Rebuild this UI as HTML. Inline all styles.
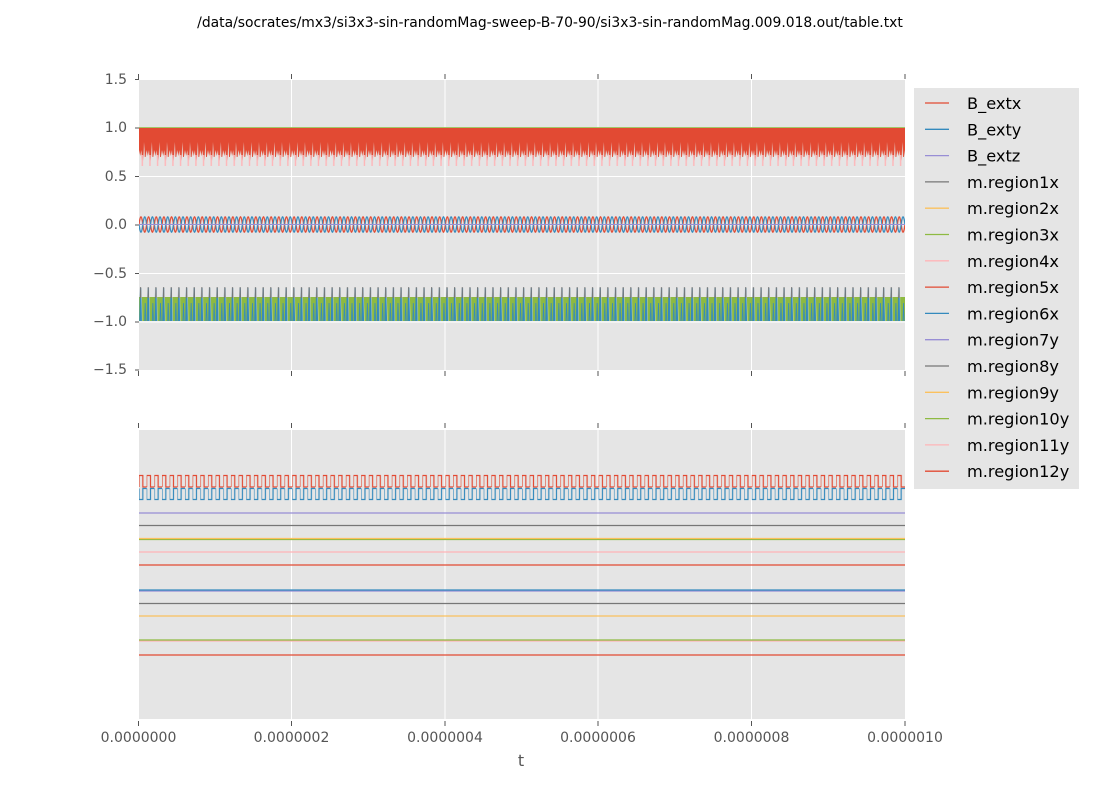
<!DOCTYPE html>
<html><head><meta charset="utf-8"><style>
html,body{margin:0;padding:0;background:#fff;}
svg{display:block;font-family:"DejaVu Sans","Liberation Sans",sans-serif;}
</style></head><body>
<svg width="1100" height="800" viewBox="0 0 1100 800" xmlns="http://www.w3.org/2000/svg">
<defs>
<pattern id="pr" patternUnits="userSpaceOnUse" x="139" y="0" width="7.66" height="800">
  <polygon points="0,128 7.66,128 7.66,150 6.6,157 5.8,157 5.2,142 4.4,156 3.6,163 3.0,163 2.4,150 1.2,156 0,150" fill="#E24A33"/>
  <line x1="3.3" y1="155" x2="3.3" y2="166" stroke="#FFB5B8" stroke-width="1.4"/>
  <line x1="0" y1="127.5" x2="7.66" y2="127.5" stroke="#8EBA42" stroke-width="0.8"/>
</pattern>
<pattern id="pg" patternUnits="userSpaceOnUse" x="139" y="0" width="7.66" height="800">
  <polygon points="0,297 1.2,297 2.0,321 0,321" fill="#8EBA42"/>
  <polygon points="2.8,297 7.66,297 7.66,321 3.3,321" fill="#8EBA42"/>
  <polyline points="0.9,321 1.6,288 2.3,321" fill="none" stroke="#348ABD" stroke-width="1.3"/>
  <polyline points="1.3,298 1.6,287 1.9,298" fill="none" stroke="#777777" stroke-width="1"/>
  <polyline points="5.6,321 6.2,303 6.8,321" fill="none" stroke="#348ABD" stroke-width="0.8"/>
</pattern>
<pattern id="ps" patternUnits="userSpaceOnUse" x="139" y="0" width="7.66" height="800">
  <path d="M0,224.5 Q1.92,209 3.83,224.5 T7.66,224.5" fill="none" stroke="#E24A33" stroke-width="1.3"/>
  <path d="M0,224.5 Q1.92,240 3.83,224.5 T7.66,224.5" fill="none" stroke="#348ABD" stroke-width="1.3"/>
</pattern>
<pattern id="sq" patternUnits="userSpaceOnUse" x="139" y="0" width="7.66" height="800">
  <path d="M0,487 V475.5 H3.83 V487 H7.66" fill="none" stroke="#E24A33" stroke-width="1.2"/>
  <path d="M0,488.5 V499.5 H3.83 V488.5 H7.66" fill="none" stroke="#348ABD" stroke-width="1.2"/>
</pattern>
</defs>

<text x="550" y="27" font-size="13.9" text-anchor="middle" fill="#000">/data/socrates/mx3/si3x3-sin-randomMag-sweep-B-70-90/si3x3-sin-randomMag.009.018.out/table.txt</text>

<!-- top axes -->
<rect x="139" y="80" width="766" height="290" fill="#E5E5E5"/>
<g stroke="#fff" stroke-width="1">
  <line x1="291.5" y1="80" x2="291.5" y2="370"/><line x1="445" y1="80" x2="445" y2="370"/>
  <line x1="598" y1="80" x2="598" y2="370"/><line x1="751.5" y1="80" x2="751.5" y2="370"/>
  <line x1="139" y1="128" x2="905" y2="128"/><line x1="139" y1="176.5" x2="905" y2="176.5"/>
  <line x1="139" y1="225" x2="905" y2="225"/><line x1="139" y1="273.5" x2="905" y2="273.5"/>
  <line x1="139" y1="322" x2="905" y2="322"/>
</g>
<rect x="139" y="126" width="766" height="42" fill="url(#pr)"/>
<rect x="139" y="214" width="766" height="22" fill="url(#ps)"/>
<line x1="139" y1="224.5" x2="905" y2="224.5" stroke="#988ED5" stroke-width="1"/>
<rect x="139" y="285" width="766" height="38" fill="url(#pg)"/>
<g stroke="#555" stroke-width="1">
  <line x1="135" y1="79.5" x2="139" y2="79.5"/><line x1="135" y1="128" x2="139" y2="128"/>
  <line x1="135" y1="176.5" x2="139" y2="176.5"/><line x1="135" y1="225" x2="139" y2="225"/>
  <line x1="135" y1="273.5" x2="139" y2="273.5"/><line x1="135" y1="322" x2="139" y2="322"/>
  <line x1="135" y1="370" x2="139" y2="370"/>
  <line x1="138.5" y1="74" x2="138.5" y2="79"/><line x1="291.5" y1="74" x2="291.5" y2="79"/>
  <line x1="445" y1="74" x2="445" y2="79"/><line x1="598" y1="74" x2="598" y2="79"/>
  <line x1="751.5" y1="74" x2="751.5" y2="79"/><line x1="905" y1="74" x2="905" y2="79"/>
  <line x1="138.5" y1="371" x2="138.5" y2="376"/><line x1="291.5" y1="371" x2="291.5" y2="376"/>
  <line x1="445" y1="371" x2="445" y2="376"/><line x1="598" y1="371" x2="598" y2="376"/>
  <line x1="751.5" y1="371" x2="751.5" y2="376"/><line x1="905" y1="371" x2="905" y2="376"/>
</g>
<g font-size="14" fill="#555" text-anchor="end">
  <text x="127" y="84">1.5</text><text x="127" y="132">1.0</text><text x="127" y="181">0.5</text>
  <text x="127" y="229">0.0</text><text x="127" y="278">−0.5</text><text x="127" y="326">−1.0</text>
  <text x="127" y="374">−1.5</text>
</g>

<!-- bottom axes -->
<rect x="139" y="430" width="766" height="289" fill="#E5E5E5"/>
<g stroke="#fff" stroke-width="1">
  <line x1="291.5" y1="430" x2="291.5" y2="719"/><line x1="445" y1="430" x2="445" y2="719"/>
  <line x1="598" y1="430" x2="598" y2="719"/><line x1="751.5" y1="430" x2="751.5" y2="719"/>
</g>
<rect x="139" y="473" width="766" height="29" fill="url(#sq)"/>
<g stroke-width="1.3">
  <line x1="139" y1="513" x2="905" y2="513" stroke="#988ED5"/>
  <line x1="139" y1="525.5" x2="905" y2="525.5" stroke="#777777"/>
  <line x1="139" y1="539.5" x2="905" y2="539.5" stroke="#8EBA42"/>
  <line x1="139" y1="538.5" x2="905" y2="538.5" stroke="#FBC15E"/>
  <line x1="139" y1="552" x2="905" y2="552" stroke="#FFB5B8"/>
  <line x1="139" y1="565" x2="905" y2="565" stroke="#E24A33"/>
  <line x1="139" y1="591" x2="905" y2="591" stroke="#988ED5"/>
  <line x1="139" y1="590" x2="905" y2="590" stroke="#348ABD"/>
  <line x1="139" y1="603.5" x2="905" y2="603.5" stroke="#777777"/>
  <line x1="139" y1="616" x2="905" y2="616" stroke="#FBC15E"/>
  <line x1="139" y1="641" x2="905" y2="641" stroke="#FFB5B8"/>
  <line x1="139" y1="640" x2="905" y2="640" stroke="#8EBA42"/>
  <line x1="139" y1="655" x2="905" y2="655" stroke="#E24A33"/>
</g>
<g stroke="#555" stroke-width="1">
  <line x1="138.5" y1="423" x2="138.5" y2="428"/><line x1="291.5" y1="423" x2="291.5" y2="428"/>
  <line x1="445" y1="423" x2="445" y2="428"/><line x1="598" y1="423" x2="598" y2="428"/>
  <line x1="751.5" y1="423" x2="751.5" y2="428"/><line x1="905" y1="423" x2="905" y2="428"/>
  <line x1="138.5" y1="721" x2="138.5" y2="726"/><line x1="291.5" y1="721" x2="291.5" y2="726"/>
  <line x1="445" y1="721" x2="445" y2="726"/><line x1="598" y1="721" x2="598" y2="726"/>
  <line x1="751.5" y1="721" x2="751.5" y2="726"/><line x1="905" y1="721" x2="905" y2="726"/>
</g>
<g font-size="14" fill="#555" text-anchor="middle">
  <text x="138.5" y="742">0.0000000</text><text x="291.5" y="742">0.0000002</text>
  <text x="445" y="742">0.0000004</text><text x="598" y="742">0.0000006</text>
  <text x="751.5" y="742">0.0000008</text><text x="905" y="742">0.0000010</text>
</g>
<text x="521" y="766" font-size="16" fill="#555" text-anchor="middle">t</text>

<!-- legend -->
<rect x="914" y="88" width="165" height="401" fill="#E5E5E5"/>
<g stroke-width="1.3">
  <line x1="925" y1="103" x2="949" y2="103" stroke="#E24A33"/>
  <line x1="925" y1="129.3" x2="949" y2="129.3" stroke="#348ABD"/>
  <line x1="925" y1="155.6" x2="949" y2="155.6" stroke="#988ED5"/>
  <line x1="925" y1="181.9" x2="949" y2="181.9" stroke="#777777"/>
  <line x1="925" y1="208.2" x2="949" y2="208.2" stroke="#FBC15E"/>
  <line x1="925" y1="234.5" x2="949" y2="234.5" stroke="#8EBA42"/>
  <line x1="925" y1="260.8" x2="949" y2="260.8" stroke="#FFB5B8"/>
  <line x1="925" y1="287.1" x2="949" y2="287.1" stroke="#E24A33"/>
  <line x1="925" y1="313.4" x2="949" y2="313.4" stroke="#348ABD"/>
  <line x1="925" y1="339.7" x2="949" y2="339.7" stroke="#988ED5"/>
  <line x1="925" y1="366" x2="949" y2="366" stroke="#777777"/>
  <line x1="925" y1="392.3" x2="949" y2="392.3" stroke="#FBC15E"/>
  <line x1="925" y1="418.6" x2="949" y2="418.6" stroke="#8EBA42"/>
  <line x1="925" y1="444.9" x2="949" y2="444.9" stroke="#FFB5B8"/>
  <line x1="925" y1="471.2" x2="949" y2="471.2" stroke="#E24A33"/>
</g>
<g font-size="16.2" fill="#000">
  <text x="967" y="109">B_extx</text><text x="967" y="135.3">B_exty</text><text x="967" y="161.6">B_extz</text>
  <text x="967" y="187.9">m.region1x</text><text x="967" y="214.2">m.region2x</text><text x="967" y="240.5">m.region3x</text>
  <text x="967" y="266.8">m.region4x</text><text x="967" y="293.1">m.region5x</text><text x="967" y="319.4">m.region6x</text>
  <text x="967" y="345.7">m.region7y</text><text x="967" y="372">m.region8y</text><text x="967" y="398.3">m.region9y</text>
  <text x="967" y="424.6">m.region10y</text><text x="967" y="450.9">m.region11y</text><text x="967" y="477.2">m.region12y</text>
</g>
</svg>
</body></html>
